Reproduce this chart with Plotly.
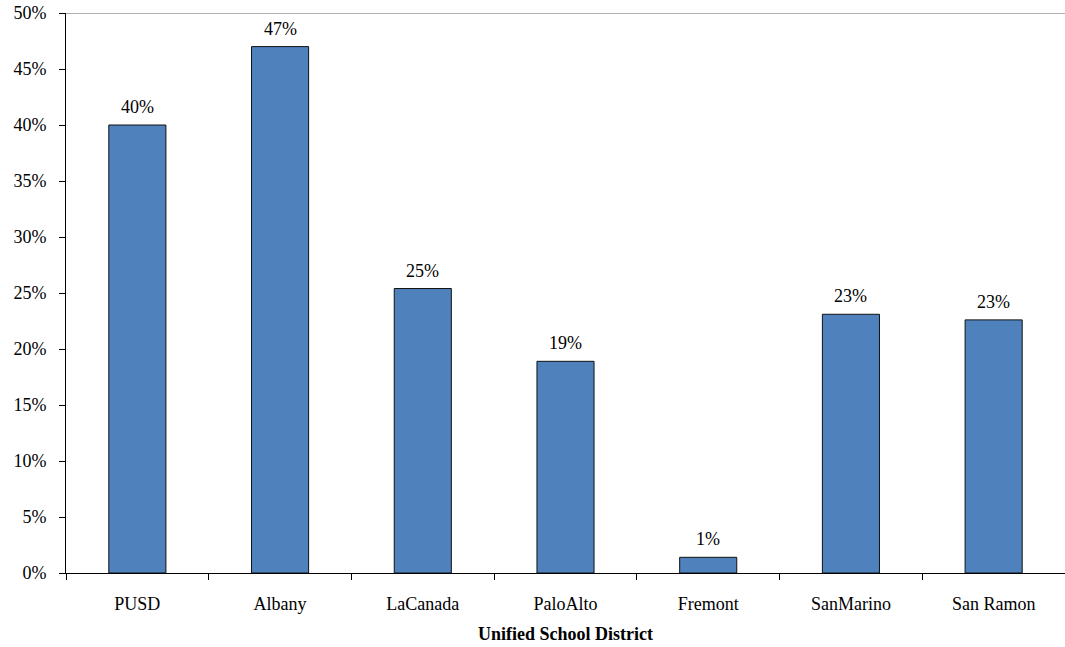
import plotly.graph_objects as go

districts = ["PUSD", "Albany", "LaCanada", "PaloAlto", "Fremont", "SanMarino", "San Ramon"]
values = [40.0, 47.0, 25.4, 18.9, 1.4, 23.1, 22.6]
y_ticks = [0, 5, 10, 15, 20, 25, 30, 35, 40, 45, 50]
y_tick_labels = [f"{v}%\u00a0\u00a0" for v in y_ticks]

font = "Liberation Serif, Times New Roman, serif"
fs = 18

fig = go.Figure(go.Bar(
    x=districts, y=values,
    width=0.4,
    marker=dict(color="#4F81BD", line=dict(color="#111111", width=1)),
    hoverinfo="skip",
))

annotations = [
    dict(x=d, y=v, xref="x", yref="y", text=f"{v:.0f}%", showarrow=False,
         yanchor="bottom", yshift=6, font=dict(family=font, size=fs, color="black"))
    for d, v in zip(districts, values)
]

fig.update_layout(
    width=1065, height=647,
    margin=dict(l=66, r=0, t=13, b=74),
    plot_bgcolor="white", paper_bgcolor="white",
    showlegend=False,
    font=dict(family=font, size=fs, color="black"),
    annotations=annotations,
    xaxis=dict(
        range=[-0.5, 6.5],
        showline=True, linecolor="black", linewidth=1,
        ticks="outside", tickson="boundaries", ticklen=6, tickcolor="black",
        showgrid=False,
        tickfont=dict(family=font, size=fs),
        ticklabelstandoff=14,
        title=dict(text="<b>Unified School District</b>", font=dict(family=font, size=fs), standoff=14),
        automargin=False,
    ),
    yaxis=dict(
        range=[0, 50],
        tickvals=y_ticks, ticktext=y_tick_labels,
        showline=True, linecolor="black", linewidth=1,
        ticks="outside", ticklen=6, tickcolor="black",
        showgrid=False, zeroline=False,
        tickfont=dict(family=font, size=fs),
        automargin=False,
    ),
    shapes=[dict(type="line", xref="paper", yref="y", x0=0, x1=1, y0=50, y1=50,
                 line=dict(color="#999999", width=1.5))],
)

fig.write_html("out.html", config={"displayModeBar": False},
               post_script="document.body.style.margin='0';")
